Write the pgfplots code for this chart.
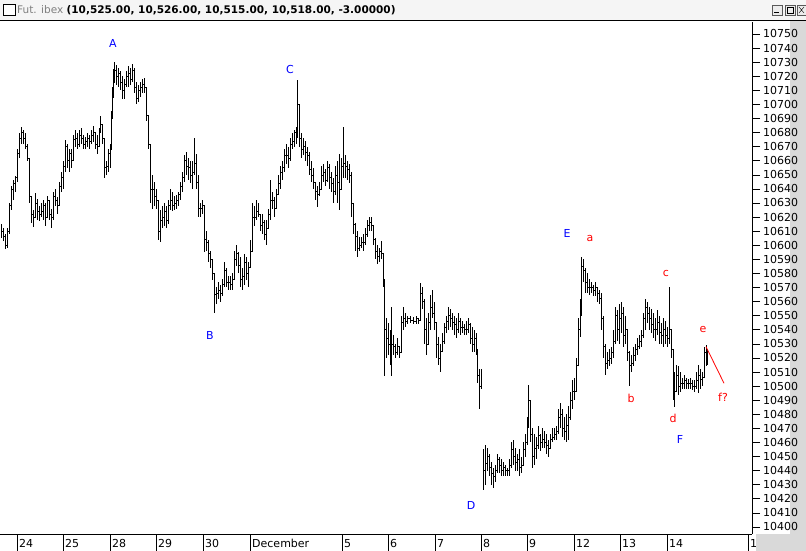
\documentclass[border=0pt]{standalone}
\usepackage{fontspec}
\setmainfont{DejaVu Sans}
\usepackage{pgfplots}
\usepackage{pgfplotstable}
\pgfplotsset{compat=1.18}

% Bars before the gap of Dec 8 (x in chart units, h=high, l=low, c=close)
\pgfplotstableread{
x h l c
1 10615 10605 10610
3 10612 10603 10606
5 10608 10597 10600
7 10612 10598 10610
9 10630 10608 10628
11 10642 10625 10640
13 10646 10632 10644
15 10649 10638 10648
17 10668 10645 10665
19 10680 10662 10676
21 10684 10672 10680
23 10682 10672 10676
25 10680 10668 10670
27 10672 10660 10662
29 10660 10630 10635
31 10632 10616 10622
33 10625 10613 10620
35 10637 10620 10630
37 10633 10618 10624
39 10628 10617 10622
41 10630 10620 10624
43 10632 10618 10628
45 10630 10614 10620
47 10635 10620 10632
49 10632 10618 10622
51 10626 10612 10620
53 10638 10618 10635
55 10640 10628 10632
57 10634 10622 10628
59 10645 10630 10642
61 10652 10638 10648
63 10660 10640 10656
65 10675 10652 10670
67 10672 10655 10660
69 10668 10652 10665
71 10668 10655 10660
73 10678 10660 10675
75 10682 10670 10676
77 10680 10668 10672
79 10682 10670 10678
81 10683 10672 10676
83 10678 10668 10672
85 10677 10668 10674
87 10680 10670 10676
89 10678 10668 10674
91 10682 10672 10678
93 10685 10673 10680
95 10680 10668 10672
97 10678 10665 10670
99 10683 10670 10680
100 10692 10680 10686
102 10686 10672 10676
104 10676 10648 10655
106 10660 10650 10656
108 10668 10652 10665
110 10672 10655 10668
111 10695 10668 10690
112 10712 10690 10705
113 10725 10705 10720
114 10730 10715 10724
116 10728 10714 10720
118 10726 10712 10722
120 10724 10710 10716
122 10720 10704 10710
124 10718 10704 10714
126 10724 10712 10720
128 10727 10712 10722
130 10726 10714 10718
132 10729 10716 10724
134 10726 10708 10712
136 10716 10700 10704
138 10714 10702 10710
140 10716 10705 10712
142 10718 10708 10714
144 10719 10708 10712
146 10705 10688 10692
148 10692 10668 10672
150 10670 10630 10640
152 10650 10626 10640
154 10645 10628 10635
156 10640 10626 10632
158 10630 10604 10610
160 10625 10602 10618
162 10628 10612 10620
164 10630 10614 10624
166 10628 10612 10618
168 10632 10615 10628
170 10640 10625 10632
172 10638 10624 10628
174 10635 10625 10630
176 10636 10626 10632
178 10638 10628 10636
180 10645 10632 10642
182 10652 10638 10648
184 10664 10645 10660
186 10666 10650 10656
188 10662 10646 10655
190 10660 10644 10650
192 10660 10640 10652
194 10676 10650 10658
196 10665 10640 10645
198 10650 10620 10626
200 10630 10620 10626
202 10632 10622 10628
204 10616 10595 10604
206 10610 10596 10602
208 10604 10588 10594
210 10596 10584 10590
212 10590 10575 10580
214 10572 10552 10565
216 10570 10558 10566
218 10574 10562 10568
220 10572 10560 10566
222 10576 10564 10572
224 10588 10570 10582
226 10584 10570 10574
228 10578 10568 10574
230 10578 10568 10572
232 10580 10568 10576
234 10596 10578 10590
236 10600 10585 10594
238 10595 10580 10586
240 10592 10570 10576
242 10584 10568 10578
244 10594 10572 10588
246 10592 10575 10580
248 10588 10570 10584
250 10604 10585 10596
252 10630 10600 10620
254 10628 10614 10620
256 10632 10618 10624
258 10630 10620 10622
260 10620 10610 10614
262 10622 10608 10616
264 10618 10604 10608
266 10618 10600 10612
268 10626 10612 10622
270 10646 10618 10632
272 10638 10626 10632
274 10634 10620 10626
276 10640 10626 10636
278 10650 10636 10644
280 10656 10640 10652
282 10660 10646 10655
284 10668 10652 10664
286 10672 10658 10664
288 10670 10655 10662
290 10676 10660 10672
292 10680 10668 10674
294 10682 10670 10680
296 10684 10672 10678
297 10717 10676 10700
299 10700 10670 10676
301 10680 10662 10668
303 10676 10664 10670
305 10674 10660 10666
307 10670 10656 10664
309 10666 10650 10654
311 10660 10645 10650
313 10655 10640 10645
315 10645 10632 10638
317 10642 10627 10636
319 10645 10635 10640
321 10656 10640 10650
323 10658 10645 10652
325 10654 10642 10646
327 10660 10645 10655
329 10658 10640 10648
331 10652 10638 10644
333 10648 10630 10638
335 10656 10636 10650
337 10660 10630 10645
339 10665 10625 10640
341 10662 10644 10656
343 10684 10648 10658
345 10664 10648 10656
347 10660 10646 10654
349 10658 10644 10650
351 10652 10620 10630
353 10625 10608 10615
355 10616 10596 10606
357 10610 10592 10598
359 10606 10596 10600
361 10606 10598 10602
363 10608 10596 10602
365 10612 10600 10608
367 10618 10606 10614
369 10620 10610 10616
371 10620 10610 10614
373 10614 10600 10604
375 10605 10590 10596
377 10600 10587 10592
379 10598 10588 10596
381 10603 10590 10594
383 10594 10570 10575
384 10576 10507 10540
386 10548 10520 10534
388 10545 10522 10530
390 10540 10515 10520
391 10556 10507 10530
393 10536 10522 10528
395 10530 10520 10524
397 10534 10522 10528
399 10528 10520 10524
401 10550 10524 10545
403 10556 10540 10548
405 10552 10542 10546
407 10550 10544 10548
410 10550 10545 10547
413 10549 10544 10546
416 10550 10544 10548
418 10548 10544 10547
420 10573 10546 10566
422 10570 10555 10560
424 10562 10530 10540
426 10548 10522 10530
428 10552 10530 10545
430 10565 10540 10556
432 10568 10548 10552
434 10560 10540 10545
436 10545 10520 10530
438 10535 10515 10520
440 10530 10510 10525
442 10538 10524 10532
444 10545 10530 10542
446 10550 10538 10546
448 10556 10540 10550
450 10555 10542 10548
452 10552 10540 10545
454 10550 10536 10544
456 10548 10534 10540
458 10552 10538 10546
460 10548 10536 10542
462 10546 10538 10542
464 10544 10536 10540
466 10546 10536 10540
468 10548 10538 10544
470 10545 10530 10534
472 10542 10524 10530
474 10540 10524 10534
476 10538 10522 10526
477 10520 10502 10508
479 10512 10484 10500
481 10512 10498 10508
}\dataA

% Bars from Dec 8 onward
\pgfplotstableread{
x h l c
483 10455 10426 10440
485 10458 10430 10445
487 10456 10440 10450
489 10452 10436 10442
491 10446 10430 10438
493 10442 10428 10436
495 10444 10432 10440
497 10452 10438 10448
499 10450 10438 10444
501 10448 10436 10440
503 10446 10436 10442
505 10444 10436 10440
507 10442 10436 10440
509 10448 10436 10444
511 10460 10442 10455
513 10462 10444 10450
515 10456 10440 10446
517 10452 10440 10448
519 10455 10436 10442
521 10450 10438 10444
523 10460 10444 10455
525 10466 10450 10460
527 10478 10458 10472
528 10501 10470 10490
530 10480 10460 10466
532 10470 10442 10450
534 10466 10444 10456
536 10464 10448 10458
538 10472 10455 10465
540 10466 10454 10460
542 10470 10456 10462
544 10468 10456 10460
546 10466 10452 10458
548 10462 10450 10456
550 10466 10456 10462
552 10470 10460 10464
554 10470 10462 10466
556 10472 10462 10468
558 10484 10466 10478
560 10488 10470 10480
562 10484 10464 10470
564 10478 10462 10468
566 10480 10460 10472
568 10486 10462 10478
570 10496 10476 10490
572 10504 10484 10496
574 10506 10490 10496
576 10520 10500 10515
578 10548 10515 10540
580 10562 10535 10555
581 10592 10550 10585
583 10590 10574 10582
585 10584 10566 10574
587 10580 10566 10570
589 10576 10565 10570
591 10574 10566 10570
593 10572 10564 10568
595 10574 10564 10570
597 10570 10560 10566
599 10568 10558 10562
601 10566 10540 10548
603 10550 10520 10528
605 10530 10508 10516
607 10524 10512 10518
609 10526 10514 10520
611 10528 10516 10524
613 10540 10520 10532
615 10556 10530 10550
617 10554 10532 10540
619 10558 10530 10548
621 10560 10538 10552
623 10556 10528 10536
625 10550 10530 10540
627 10540 10518 10524
629 10525 10500 10515
631 10522 10510 10516
633 10528 10514 10522
635 10530 10518 10526
637 10534 10522 10528
639 10536 10526 10532
641 10540 10528 10536
643 10552 10534 10548
645 10562 10540 10556
647 10560 10545 10552
649 10556 10540 10548
651 10555 10538 10544
653 10552 10534 10540
655 10548 10532 10540
657 10554 10536 10545
659 10550 10530 10538
661 10545 10530 10536
663 10548 10528 10540
665 10546 10530 10536
667 10542 10528 10534
669 10570 10530 10540
671 10540 10520 10526
673 10520 10490 10500
674 10510 10485 10496
676 10515 10496 10508
678 10514 10494 10500
680 10510 10496 10502
682 10506 10498 10502
684 10508 10498 10504
686 10506 10498 10502
688 10505 10498 10502
690 10506 10498 10502
692 10504 10497 10500
694 10504 10496 10500
696 10510 10498 10504
698 10515 10495 10508
700 10512 10498 10505
702 10510 10500 10506
704 10528 10506 10524
706 10529 10514 10520
707 10526 10515 10518
}\dataB

\pgfplotsset{
  barstyle/.style={draw=none, mark=none,
    error bars/y dir=both, error bars/y explicit, error bars/error mark=none,
    error bars/error bar style={draw=black, solid, line width=0.9bp}},
}

\begin{document}
\begin{tikzpicture}[x=1bp,y=1bp]
\useasboundingbox (0,-17) rectangle (806,534);
% title bar
\fill[gray!8] (0,514) rectangle (806,534);
\draw[black, line width=1.5bp] (0,513.5) -- (806,513.5);
\draw[black, fill=white] (3,519) rectangle (15,530);
\draw[black, line width=1.5bp] (3,529.5) -- (15,529.5);
\node[anchor=west, inner sep=0pt, font=\fontsize{10.5bp}{12bp}\selectfont] at (17,524)
  {\textcolor{gray}{Fut. ibex} \textbf{(10,525.00, 10,526.00, 10,515.00, 10,518.00, -3.00000)}};
% window buttons
\draw[gray!70!black, fill=gray!15] (772,519) rectangle (782,529);
\draw[black, line width=1bp] (774,521) -- (779,521);
\draw[gray!70!black, fill=gray!15] (785,519) rectangle (795,529);
\draw[black] (787,521) rectangle (793,527);
\draw[black, line width=0.8bp] (787,527) -- (793,527);
\draw[gray!70!black, fill=gray!15] (797,519) rectangle (806,529);
\draw[black] (799,521) -- (804,527) (799,527) -- (804,521);
% right strip and corner
\fill[gray!30] (790,-17) rectangle (806,513);
\fill[gray!30] (756,-17) rectangle (806,0);

\begin{axis}[
  at={(0,0)}, anchor=south west,
  scale only axis, width=752bp, height=512bp,
  xmin=0, xmax=752, ymin=10395, ymax=10758.5,
  axis x line=bottom, axis y line=right,
  axis line style={-, black, line width=0.8bp},
  tick align=outside,
  xtick={17,63,110,156,203,250,342,388,435,481,527,574,620,667,748},
  xticklabels={24,25,28,29,30,December,5,6,7,8,9,12,13,14,1},
  xtick style={black, line width=0.6bp, /pgfplots/major tick length=17bp},
  xticklabel style={anchor=north west, inner sep=0pt, xshift=2bp, yshift=3bp,
    font=\fontsize{11bp}{13bp}\selectfont},
  ytick={10400,10410,...,10750},
  scaled y ticks=false,
  minor y tick num=1,
  ytick style={black, line width=0.6bp},
  major tick length=8bp, minor tick length=4bp,
  yticklabel style={anchor=west, inner sep=0pt, xshift=3bp,
    font=\fontsize{11bp}{13bp}\selectfont},
  /pgf/number format/1000 sep={},
  /pgf/number format/assume math mode=true,
]
\addplot[forget plot, black, line width=0.6bp, const plot, mark=none]
  table[x=x, y=c]{\dataA};
\addplot[forget plot, barstyle]
  table[x=x, y=c, y error plus expr=\thisrow{h}-\thisrow{c},
        y error minus expr=\thisrow{c}-\thisrow{l}]{\dataA};
\addplot[forget plot, black, line width=0.6bp, const plot, mark=none]
  table[x=x, y=c]{\dataB};
\addplot[forget plot, barstyle]
  table[x=x, y=c, y error plus expr=\thisrow{h}-\thisrow{c},
        y error minus expr=\thisrow{c}-\thisrow{l}]{\dataB};
\addplot[red, line width=0.8bp, mark=none] coordinates {(706,10528) (724,10502)};

\begin{scope}[font=\fontsize{11bp}{13bp}\selectfont]
\node[text=blue] at (axis cs:113,10743) {A};
\node[text=blue] at (axis cs:210,10536) {B};
\node[text=blue] at (axis cs:290,10725) {C};
\node[text=blue] at (axis cs:471,10415) {D};
\node[text=blue] at (axis cs:567,10608) {E};
\node[text=blue] at (axis cs:680,10462) {F};
\node[text=red] at (axis cs:590,10604.5) {a};
\node[text=red] at (axis cs:631,10491.5) {b};
\node[text=red] at (axis cs:666,10580) {c};
\node[text=red] at (axis cs:673,10477) {d};
\node[text=red] at (axis cs:703,10540.5) {e};
\node[text=red] at (axis cs:723,10492) {f?};
\end{scope}
\end{axis}
\end{tikzpicture}
\end{document}
